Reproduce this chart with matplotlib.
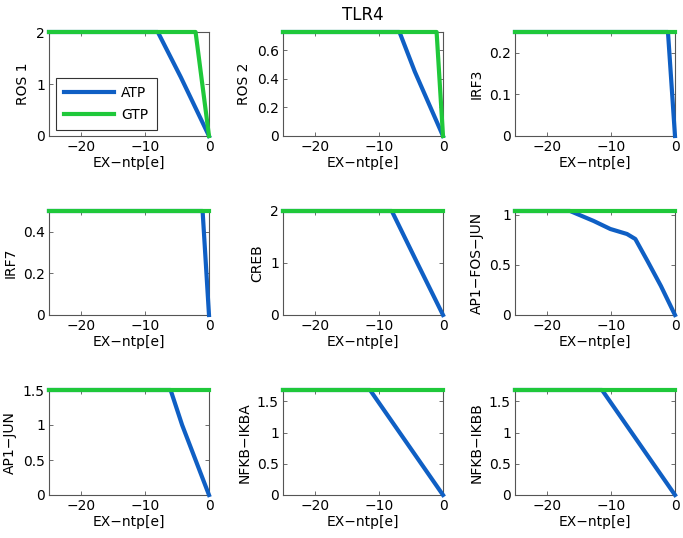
import matplotlib
matplotlib.use("Agg")
import matplotlib.pyplot as plt

# ---- data ----
names = ["ROS 1", "ROS 2", "IRF3", "IRF7", "CREB", "AP1\u2212FOS\u2212JUN",
         "AP1\u2212JUN", "NFKB\u2212IKBA", "NFKB\u2212IKBB"]
ymax = [2.0, 0.728, 0.25, 0.5, 2.0, 1.04, 1.5, 1.68, 1.68]
yticks = [[0, 1, 2], [0, 0.2, 0.4, 0.6], [0, 0.1, 0.2], [0, 0.2, 0.4], [0, 1, 2],
          [0, 0.5, 1], [0, 0.5, 1, 1.5], [0, 0.5, 1, 1.5], [0, 0.5, 1, 1.5]]
yticklabels = [["0", "1", "2"], ["0", "0.2", "0.4", "0.6"], ["0", "0.1", "0.2"],
               ["0", "0.2", "0.4"], ["0", "1", "2"], ["0", "0.5", "1"],
               ["0", "0.5", "1", "1.5"], ["0", "0.5", "1", "1.5"], ["0", "0.5", "1", "1.5"]]

atp_x = [
    [-25, -8.0, -4.4, 0],
    [-25, -6.8, -4.4, 0],
    [-25, -1.1, 0],
    [-25, -1.0, 0],
    [-25, -8.0, -4.1, 0],
    [-25, -16.4, -12.7, -10.1, -7.5, -6.2, -4.3, -2.2, 0],
    [-25, -6.0, -4.2, 0],
    [-25, -11.4, 0],
    [-25, -11.4, 0],
]
atp_y = [
    [2.0, 2.0, 1.13, 0],
    [0.728, 0.728, 0.45, 0],
    [0.25, 0.25, 0],
    [0.5, 0.5, 0],
    [2.0, 2.0, 1.02, 0],
    [1.04, 1.04, 0.94, 0.86, 0.81, 0.76, 0.54, 0.29, 0],
    [1.5, 1.5, 1.0, 0],
    [1.68, 1.68, 0],
    [1.68, 1.68, 0],
]
gtp_x = [
    [-25, -2.1, 0],
    [-25, -1.0, 0],
    [-25, 0],
    [-25, 0],
    [-25, 0],
    [-25, 0],
    [-25, 0],
    [-25, 0],
    [-25, 0],
]
gtp_y = [
    [2.0, 2.0, 0],
    [0.728, 0.728, 0],
    [0.25, 0.25],
    [0.5, 0.5],
    [2.0, 2.0],
    [1.04, 1.04],
    [1.5, 1.5],
    [1.68, 1.68],
    [1.68, 1.68],
]
xticks = [-20, -10, 0]
xticklabels = ["\u221220", "\u221210", "0"]
xlabel = "EX\u2212ntp[e]"
title = "TLR4"

blue = "#0f5fc4"
green = "#1fc83a"

plt.rcParams["font.family"] = ["DejaVu Sans"]
plt.rcParams["font.size"] = 9

fig = plt.figure(figsize=(6.83, 5.38), dpi=100)
W, H = 683, 538
lefts = [49, 283, 515]
tops = [32, 211, 390]
bottoms = [136, 315, 495]
aw = 160

for i in range(9):
    r, c = divmod(i, 3)
    ax = fig.add_axes([lefts[c] / W, 1 - bottoms[r] / H, aw / W, (bottoms[r] - tops[r]) / H])
    ax.plot(atp_x[i], atp_y[i], color=blue, lw=3.0, label="ATP", clip_on=False,
            solid_joinstyle="round", zorder=3)
    ax.plot(gtp_x[i], gtp_y[i], color=green, lw=3.0, label="GTP", clip_on=False,
            solid_joinstyle="round", zorder=4)
    ax.set_xlim(-25, 0)
    ax.set_ylim(0, ymax[i])
    ax.set_xticks(xticks)
    ax.set_xticklabels(xticklabels)
    ax.set_yticks(yticks[i])
    ax.set_yticklabels(yticklabels[i])
    ax.tick_params(direction="in", length=3, width=0.6, top=True, right=True,
                   color="#555555", labelsize=10, pad=3)
    for s in ax.spines.values():
        s.set_color("#555555")
        s.set_linewidth(0.8)
    ax.set_xlabel(xlabel, fontsize=10, labelpad=1)
    ax.set_ylabel(names[i], fontsize=10, labelpad=4)
    if i == 0:
        leg = ax.legend(loc="lower left", bbox_to_anchor=(0.044, 0.058), borderaxespad=0,
                        fancybox=False, framealpha=1, edgecolor="#333333",
                        handlelength=3.6, fontsize=10, labelspacing=0.55,
                        borderpad=0.6, handletextpad=0.5)
        leg.get_frame().set_linewidth(0.8)
    if i == 1:
        ax.set_title(title, fontsize=12, pad=9)

fig.savefig("out.png", dpi=100)
